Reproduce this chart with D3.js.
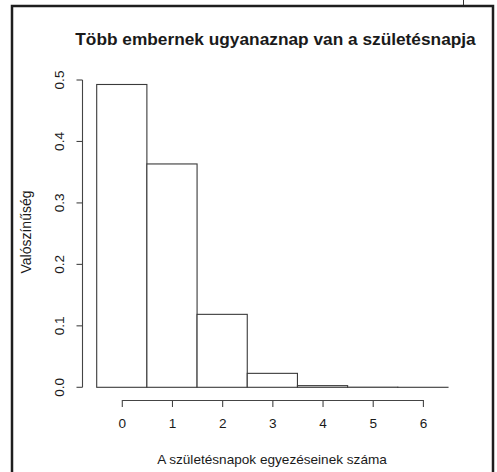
<!DOCTYPE html>
<html>
<head>
<meta charset="utf-8">
<script src="https://cdn.jsdelivr.net/npm/d3@7"></script>
<style>
  html, body { margin: 0; padding: 0; background: #fff; }
  svg { display: block; }
  text { font-family: "Liberation Sans", Arial, sans-serif; fill: #1a1a1a; }
</style>
</head>
<body>
<svg id="chart" width="497" height="472"></svg>
<script>
// Number of shared birthdays and their probabilities
const matches = [0, 1, 2, 3, 4, 5, 6];
const probabilities = [0.4927, 0.3634, 0.1187, 0.0227, 0.0027, 0.0002, 0.00001];
const yTicks = [0, 0.1, 0.2, 0.3, 0.4, 0.5];
const xTicks = [0, 1, 2, 3, 4, 5, 6];
const titleText = "Több embernek ugyanaznap van a születésnapja";
const xTitle = "A születésnapok egyezéseinek száma";
const yTitle = "Valószínűség";

const svg = d3.select("#chart");
svg.append("rect").attr("width", 497).attr("height", 472).attr("fill", "#fff");

// Frame around the figure
svg.append("rect")
  .attr("x", 12).attr("y", 6)
  .attr("width", 481).attr("height", 480)
  .attr("fill", "none").attr("stroke", "#1e1e1e").attr("stroke-width", 2.5);
svg.append("line")
  .attr("x1", 463.5).attr("x2", 463.5).attr("y1", 0).attr("y2", 5)
  .attr("stroke", "#333").attr("stroke-width", 1);

const x = d3.scaleLinear().domain([-0.5, 6.5]).range([96.7, 448]);
const y = d3.scaleLinear().domain([0, 0.5]).range([387.3, 80]);
const axisColor = "#444";

// Histogram bars
svg.append("g").selectAll("rect")
  .data(matches)
  .join("rect")
  .attr("x", d => x(d - 0.5))
  .attr("width", d => x(d + 0.5) - x(d - 0.5))
  .attr("y", (d, i) => y(probabilities[i]))
  .attr("height", (d, i) => y(0) - y(probabilities[i]))
  .attr("fill", "#fff")
  .attr("stroke", "#3a3a3a")
  .attr("stroke-width", 1.1);

// Y axis: line spanning the tick range, ticks to the left, vertical labels
const yAxisX = 82.5;
const gy = svg.append("g");
gy.append("line")
  .attr("x1", yAxisX).attr("x2", yAxisX)
  .attr("y1", y(yTicks[0])).attr("y2", y(yTicks[yTicks.length - 1]))
  .attr("stroke", axisColor).attr("stroke-width", 1.1);
gy.selectAll("line.tick")
  .data(yTicks)
  .join("line")
  .attr("class", "tick")
  .attr("x1", yAxisX).attr("x2", yAxisX - 6)
  .attr("y1", d => y(d)).attr("y2", d => y(d))
  .attr("stroke", axisColor).attr("stroke-width", 1.1);
gy.selectAll("text")
  .data(yTicks)
  .join("text")
  .attr("transform", d => `translate(${yAxisX - 19},${y(d)}) rotate(-90)`)
  .attr("text-anchor", "middle")
  .attr("font-size", 13.6)
  .text(d3.format(".1f"));

// X axis
const xAxisScale = d3.scaleLinear().domain([0, 6]).range([x(0), x(6)]);
const xAxis = d3.axisBottom(xAxisScale).tickValues(xTicks).tickFormat(d3.format("d"))
  .tickSizeInner(7).tickSizeOuter(0).tickPadding(11);
const gx = svg.append("g").attr("transform", "translate(0,400)").call(xAxis);
gx.selectAll("path, line").attr("stroke", axisColor).attr("stroke-width", 1.1);
gx.selectAll("text")
  .attr("font-size", 13.6)
  .attr("font-family", "Liberation Sans, Arial, sans-serif")
  .attr("fill", "#1a1a1a");

// Titles
svg.append("text")
  .attr("x", 275.5).attr("y", 45)
  .attr("text-anchor", "middle")
  .attr("font-size", 17.3).attr("font-weight", "bold")
  .text(titleText);

svg.append("text")
  .attr("x", 272).attr("y", 464)
  .attr("text-anchor", "middle")
  .attr("font-size", 13.6)
  .text(xTitle);

svg.append("text")
  .attr("transform", "translate(31,232) rotate(-90)")
  .attr("text-anchor", "middle")
  .attr("font-size", 14)
  .text(yTitle);
</script>
</body>
</html>
